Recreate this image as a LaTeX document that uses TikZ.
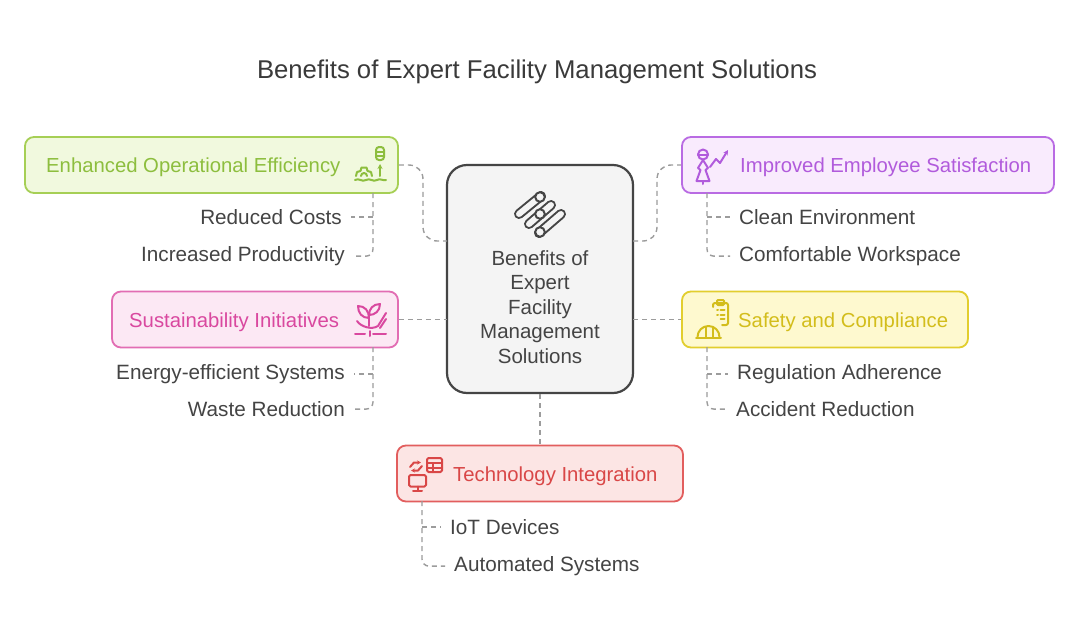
\documentclass[tikz,border=0pt]{standalone}
\usepackage{fontspec}
\setmainfont{Liberation Sans}
\usetikzlibrary{arrows.meta}
\definecolor{txt}{HTML}{444444}
\definecolor{ttl}{HTML}{3A3A3A}
\definecolor{cn}{HTML}{9C9C9C}
\definecolor{gB}{HTML}{A6CF55}\definecolor{gF}{HTML}{F1F9DE}\definecolor{gT}{HTML}{8DBE3E}
\definecolor{pB}{HTML}{B96BE3}\definecolor{pF}{HTML}{F9EBFD}\definecolor{pT}{HTML}{B15BDC}
\definecolor{kB}{HTML}{E26DB3}\definecolor{kF}{HTML}{FCE8F4}\definecolor{kT}{HTML}{D9489F}
\definecolor{yB}{HTML}{E2CE2E}\definecolor{yF}{HTML}{FEF9CF}\definecolor{yT}{HTML}{D3BD1B}
\definecolor{rB}{HTML}{E25E5E}\definecolor{rF}{HTML}{FCE5E4}\definecolor{rT}{HTML}{D94747}
\definecolor{cF}{HTML}{F4F4F4}\definecolor{cB}{HTML}{454545}
\begin{document}
\begin{tikzpicture}[x=1pt,y=-1pt,
  catbox/.style={draw, line width=1.8pt, rounded corners=9pt, inner sep=0pt, minimum height=56pt},
  cattext/.style={font=\fontsize{20.3}{24}\selectfont, inner sep=0pt, anchor=base west},
  subl/.style={font=\fontsize{20.7}{24}\selectfont, text=txt, inner sep=0pt, anchor=base east},
  subr/.style={font=\fontsize{20.7}{24}\selectfont, text=txt, inner sep=0pt, anchor=base west},
  conn/.style={draw=cn, line width=1.4pt, dash pattern=on 5pt off 4pt},
  ico/.style={line width=2pt, line cap=round, line join=round}]
\useasboundingbox[fill=white] (0,0) rectangle (1080,627);

% title
\node[font=\fontsize{25.7}{29}\selectfont, text=ttl, anchor=base, inner sep=0pt] (title) at (537,78) {Benefits of Expert Facility Management Solutions};

% centre box
\node[draw=cB, fill=cF, line width=2.2pt, rounded corners=20pt, minimum width=186pt, minimum height=228pt, inner sep=0pt] (center) at (540,279) {};
\node[font=\fontsize{20.5}{24.5}\selectfont, text=txt, align=center, inner sep=0pt] (ctext) at (540,307) {Benefits of\\Expert\\Facility\\Management\\Solutions};
% centre icon
\foreach \ax/\ay/\bx/\by in {519/214/541/196, 529/224/551/205, 539/233/561/214}{
  \draw[line width=10pt, line cap=round, color=cB] (\ax,\ay) -- (\bx,\by);
  \draw[line width=6pt, line cap=round, color=cF] (\ax,\ay) -- (\bx,\by);
}
\foreach \cx/\cy in {540/197, 540/214, 540/232}{
  \draw[cB, line width=2pt, fill=cF] (\cx,\cy) circle (4.8pt);
}

% category boxes
\node[catbox, draw=gB, fill=gF, minimum width=373pt] (green) at (211.5,165) {};
\node[catbox, draw=pB, fill=pF, minimum width=372pt] (purple) at (868,165) {};
\node[catbox, draw=kB, fill=kF, minimum width=286pt] (pink) at (255,319.5) {};
\node[catbox, draw=yB, fill=yF, minimum width=286pt] (yellow) at (825,319.5) {};
\node[catbox, draw=rB, fill=rF, minimum width=286pt] (red) at (540,473.5) {};

\node[cattext, text=gT] (greent) at (46,172.5) {Enhanced Operational Efficiency};
\node[cattext, text=pT] (purplet) at (740,172.5) {Improved Employee Satisfaction};
\node[cattext, text=kT] (pinkt) at (129,327) {Sustainability Initiatives};
\node[cattext, text=yT] (yellowt) at (738,327) {Safety and Compliance};
\node[cattext, text=rT] (redt) at (453,481) {Technology Integration};

% sub items
\node[subl] (g1) at (342,224.5) {Reduced Costs};
\node[subl] (g2) at (345,261.5) {Increased Productivity};
\node[subr] (p1) at (739,224.5) {Clean Environment};
\node[subr] (p2) at (739,261.5) {Comfortable Workspace};
\node[subl] (k1) at (345,379.5) {Energy-efficient Systems};
\node[subl] (k2) at (345,416.5) {Waste Reduction};
\node[subr] (y1) at (737,379.5) {Regulation Adherence};
\node[subr] (y2) at (736,416.5) {Accident Reduction};
\node[subr] (r1) at (450,534.5) {IoT Devices};
\node[subr] (r2) at (454,571.5) {Automated Systems};

% connection points
\coordinate (cL1) at (447,241);
\coordinate (cR1) at (633,241);
\coordinate (cL2) at (447,319.5);
\coordinate (cR2) at (633,319.5);
\coordinate (gv) at (373,193);
\coordinate (pv) at (707,193);
\coordinate (kv) at (373,347);
\coordinate (yv) at (707,347);
\coordinate (rv) at (422,501);

% main connectors
\draw[conn, rounded corners=14pt] (green.east) -- (423,165) -- (423,241) -- (cL1);
\draw[conn, rounded corners=14pt] (cR1) -- (657,241) -- (657,165) -- (purple.west);
\draw[conn] (pink.east) -- (cL2);
\draw[conn] (cR2) -- (yellow.west);
\draw[conn] (center.south) -- (red.north);

% sub connectors
\draw[conn, rounded corners=7pt] (gv) |- ([xshift=9pt]g2.east);
\draw[conn] (gv |- g1.east) -- ([xshift=9pt]g1.east);
\draw[conn, rounded corners=7pt] (pv) |- ([xshift=-9pt]p2.west);
\draw[conn] (pv |- p1.west) -- ([xshift=-9pt]p1.west);
\draw[conn, rounded corners=7pt] (kv) |- ([xshift=9pt]k2.east);
\draw[conn] (kv |- k1.east) -- ([xshift=9pt]k1.east);
\draw[conn, rounded corners=7pt] (yv) |- ([xshift=-9pt]y2.west);
\draw[conn] (yv |- y1.west) -- ([xshift=-9pt]y1.west);
\draw[conn, rounded corners=7pt] (rv) |- ([xshift=-9pt]r2.west);
\draw[conn] (rv |- r1.west) -- ([xshift=-9pt]r1.west);

% green icon
\begin{scope}[ico, draw=gT]
  \draw[rounded corners=3pt] (376,147) rectangle (384,160);
  \draw (376,151.5) -- (384,151.5) (376,156) -- (384,156);
  \draw[-{Stealth[length=5pt,width=5pt]}] (380,176) -- (380,164);
  \draw (356,176) -- (357,172) -- (360.5,171) -- (361.5,167.5) -- (366.5,167.5) -- (367.5,171) -- (371,172) -- (372,176);
  \draw (361,176) arc[start angle=180, end angle=360, radius=3];
  \draw (355,180) .. controls (359,177.5) and (362,182.5) .. (366,180) .. controls (370,177.5) and (373,182.5) .. (377,180) .. controls (380,178) and (383,181) .. (386,180);
\end{scope}

% purple icon
\begin{scope}[ico, draw=pT]
  \draw (703,154.5) circle (5pt);
  \draw (698,154.5) -- (708,154.5);
  \draw (703,160) -- (698,168) -- (700.5,170) -- (696.5,181) -- (709.5,181) -- (705.5,170) -- (708,168) -- cycle;
  \draw (703,181) -- (703,184);
  \draw[-{Stealth[length=5pt,width=5pt]}] (710,167) -- (716,159) -- (720,163) -- (728,150);
\end{scope}

% pink icon
\begin{scope}[ico, draw=kT]
  \draw (369,326) -- (369,314);
  \draw (369,318) .. controls (362,318) and (358,313) .. (358,306) .. controls (365,306) and (369,311) .. (369,318);
  \draw (369,315) .. controls (369,309) and (373,304) .. (380,304) .. controls (380,311) and (375,315) .. (369,315);
  \draw (357,321) .. controls (361,327) and (372,330) .. (378,326) -- (386,313);
  \draw (380,328) -- (386,319);
  \draw (355,333.5) -- (365,333.5) (373,333.5) -- (386,333.5);
  \draw (369.5,331) -- (369.5,336);
\end{scope}

% yellow icon
\begin{scope}[ico, draw=yT]
  \draw[rounded corners=2pt] (713,307) -- (713,303) -- (728,303) -- (728,325) -- (722,325);
  \draw[rounded corners=1pt] (717,300) rectangle (724,305);
  \draw (717,310) -- (718,310) (720.5,310) -- (724.5,310) (717,314.5) -- (718,314.5) (720.5,314.5) -- (724.5,314.5) (720.5,319) -- (724.5,319);
  \draw (696,338) -- (721,338);
  \draw (697.5,337) arc[start angle=180, end angle=360, radius=11];
  \draw (705.5,327) -- (705.5,337) (713,327) -- (713,337);
\end{scope}

% red icon
\begin{scope}[ico, draw=rT]
  \draw[rounded corners=1.5pt] (427,458) rectangle (442,472);
  \draw (427,463) -- (442,463) (427,467.5) -- (442,467.5) (432.5,463) -- (432.5,472);
  \draw[rounded corners=1.5pt] (409,475) rectangle (426,486.5);
  \draw (417.5,486.5) -- (417.5,490.5) (413,490.5) -- (422,490.5);
  \draw[-{Stealth[length=4pt,width=4pt]}] (410,467) -- (414,462.5) -- (421,462.5);
  \draw[-{Stealth[length=4pt,width=4pt]}] (422,466) -- (418,470.5) -- (411,470.5);
\end{scope}
\end{tikzpicture}
\end{document}
